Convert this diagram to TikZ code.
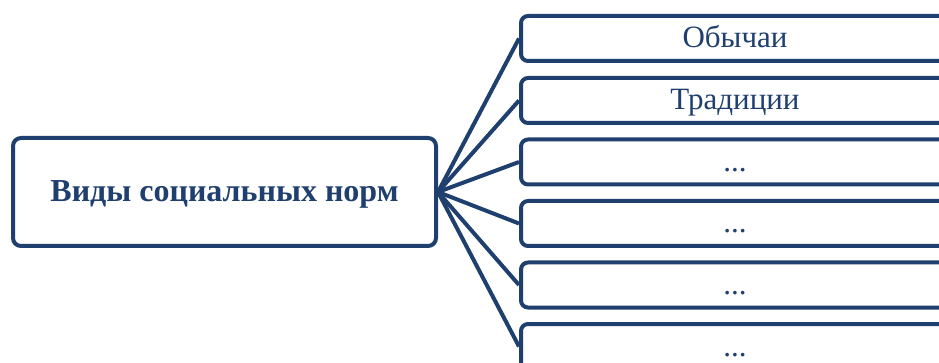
\documentclass[tikz,border=0pt]{standalone}
\usepackage{fontspec}
\setmainfont{Liberation Serif}
\usepackage{tikz}
\definecolor{normblue}{RGB}{31,63,110}

\begin{document}
\begin{tikzpicture}[x=1pt, y=-1pt, line width=4pt, draw=normblue,
	main/.style = {draw=normblue, rounded corners=8pt, fill=white, text=normblue, font=\fontsize{32}{36}\selectfont\bfseries, text height=21pt, text depth=1pt, minimum width=423pt, minimum height=108pt},
	kind/.style = {draw=normblue, rounded corners=7pt, fill=white, text=normblue, font=\fontsize{31}{36}\selectfont, text height=20pt, text depth=1pt, minimum width=428pt, minimum height=45pt}]
	\useasboundingbox (0,0) rectangle (939,363);
	\node[main] (0) at (224.5,192) {Виды социальных норм};
	\node[kind] (1) at (735,38.5) {Обычаи};
	\node[kind] (2) at (735,100.5) {Традиции};
	\node[kind] (3) at (735,162) {...};
	\node[kind] (4) at (735,223.5) {...};
	\node[kind] (5) at (735,285) {...};
	\node[kind] (6) at (735,346.5) {...};
	\draw[normblue] (0.east) -- (1.west);
	\draw[normblue] (0.east) -- (2.west);
	\draw[normblue] (0.east) -- (3.west);
	\draw[normblue] (0.east) -- (4.west);
	\draw[normblue] (0.east) -- (5.west);
	\draw[normblue] (0.east) -- (6.west);
\end{tikzpicture}
\end{document}
